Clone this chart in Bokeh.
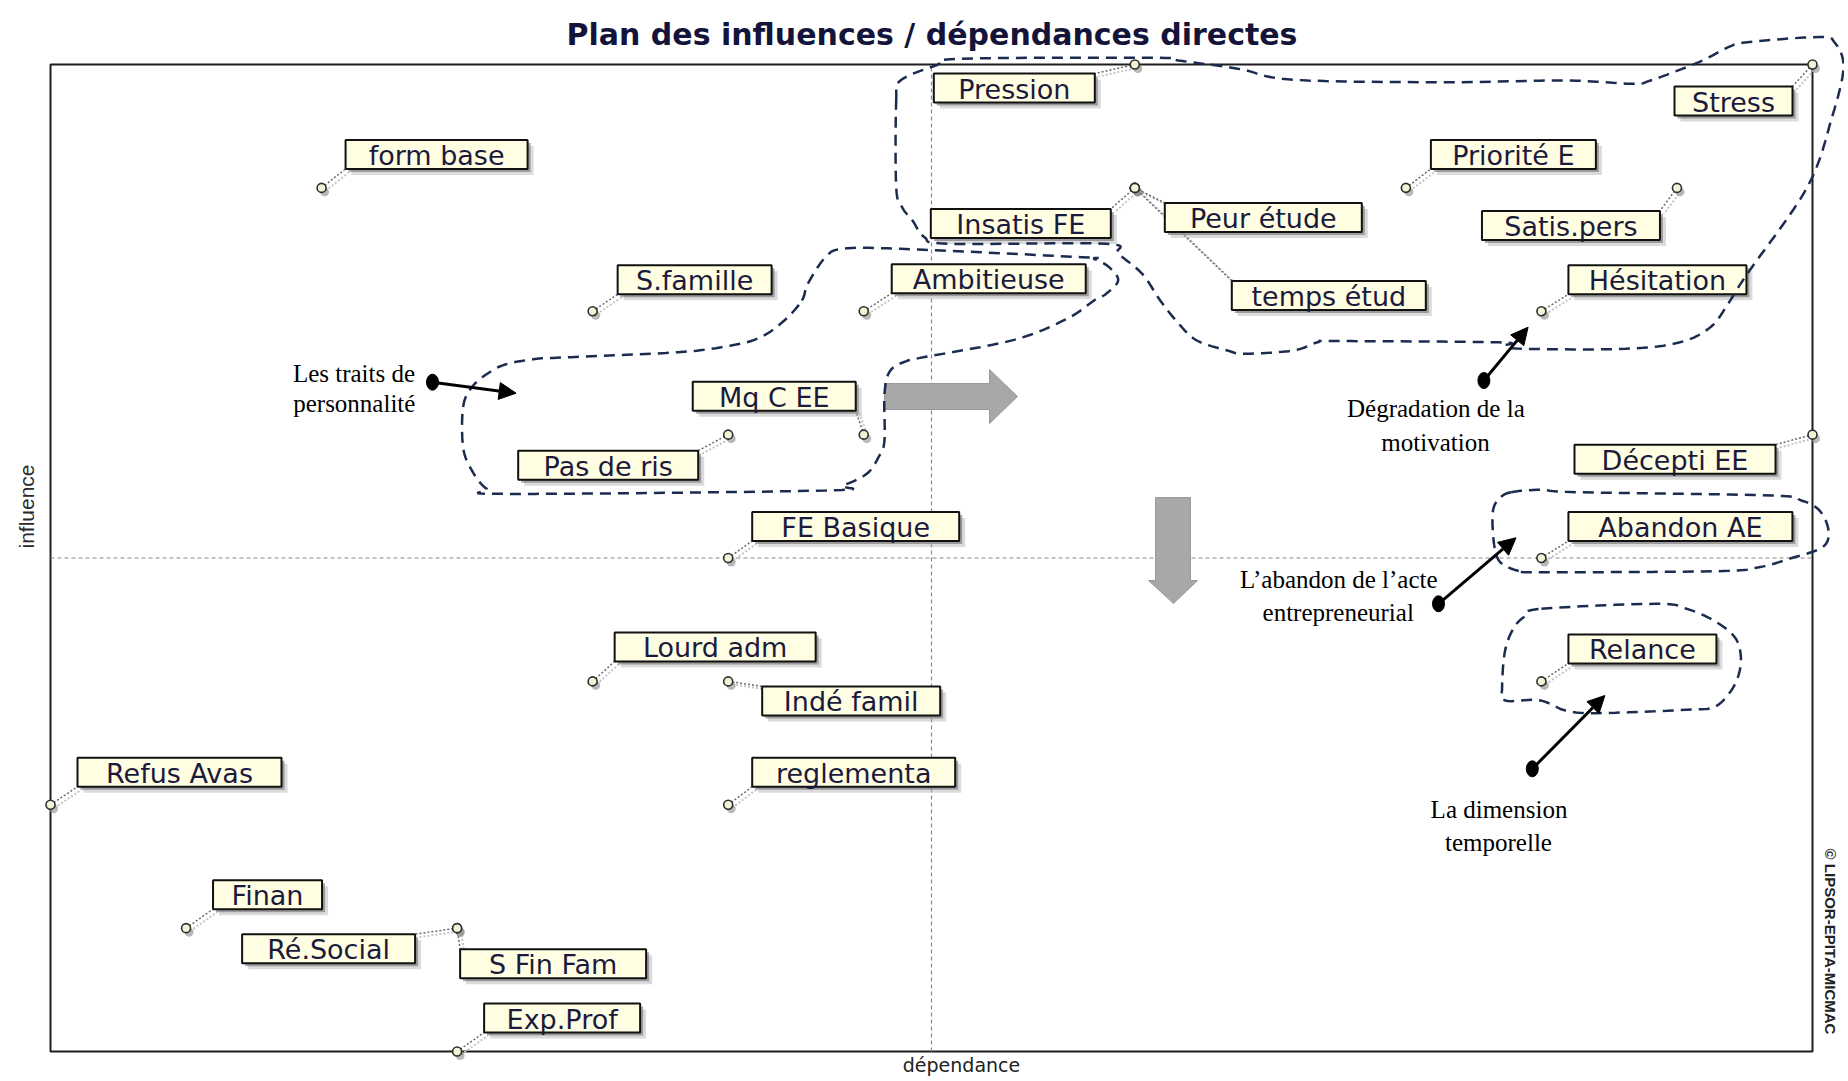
import numpy as np
from bokeh.plotting import figure
from bokeh.models import Range1d, Label, Arrow, NormalHead
from bokeh.embed import file_html
from bokeh.resources import INLINE
from bokeh.core.properties import value

# ---------------- data ----------------
names = ["form base", "Pression", "Stress", "Priorité E", "Insatis FE", "Peur étude",
         "temps étud", "Satis.pers", "Hésitation", "S.famille", "Ambitieuse", "Mq C EE",
         "Pas de ris", "FE Basique", "Décepti EE", "Abandon AE", "Relance", "Lourd adm",
         "Indé famil", "Refus Avas", "reglementa", "Finan", "Ré.Social", "S Fin Fam", "Exp.Prof"]
dependance = [2, 8, 13, 10, 8, 8, 8, 12, 11, 4, 6, 6, 5, 5, 13, 11, 11, 4, 5, 0, 5, 1, 3, 3, 3]
influence = [7, 8, 8, 7, 7, 7, 7, 7, 6, 6, 6, 5, 5, 4, 5, 4, 3, 3, 3, 2, 2, 1, 1, 1, 0]

title_text = "Plan des influences / dépendances directes"
x_label = "dépendance"
y_label = "influence"
credit = "© LIPSOR-EPITA-MICMAC"

# ---------------- layout (page pixels) ----------------
W, H = 1844, 1080
PAGE = 0
BOX_L, BOX_T, BOX_W, BOX_H = 50, 64, 1762, 987
LBL_H = 29

# label box offsets from the point (dx, dy of top-left corner, box width)
label_box = [(24, -48, 182), (-201, 9, 161), (-138, 22, 118), (25, -48, 165), (-204, 21, 180),
             (30, 15, 197), (97, 93, 194), (-195, 23, 178), (27, -46, 178), (25, -46, 154),
             (28, -47, 194), (-171, -53, 163), (-210, 16, 180), (24, -46, 207), (-238, 10, 201),
             (27, -46, 224), (27, -47, 148), (22, -49, 201), (34, 5, 178), (27, -47, 204),
             (24, -47, 203), (27, -48, 109), (-215, 6, 173), (3, 21, 186), (27, -48, 156)]

xmin, xmax = min(dependance), max(dependance)
ymin, ymax = min(influence), max(influence)
sx = (xmax - xmin) / BOX_W
sy = (ymax - ymin) / BOX_H
x0 = xmin - (BOX_L - PAGE) * sx
x1 = x0 + W * sx
y1 = ymax + (BOX_T - PAGE) * sy
y0 = y1 - H * sy


def X(px):
    return x0 + (np.asarray(px, dtype=float) - PAGE) * sx


def Y(py):
    return y1 - (np.asarray(py, dtype=float) - PAGE) * sy


def PX(x):
    return PAGE + (x - x0) / sx


def PY(y):
    return PAGE + (y1 - y) / sy


def smooth_closed(pts, n=10):
    pts = np.array(pts, dtype=float)
    m = len(pts)
    out = []
    for i in range(m):
        p0, p1, p2, p3 = pts[(i - 1) % m], pts[i], pts[(i + 1) % m], pts[(i + 2) % m]
        for t in np.linspace(0, 1, n, endpoint=False):
            t2, t3 = t * t, t * t * t
            out.append(0.5 * ((2 * p1) + (-p0 + p2) * t + (2 * p0 - 5 * p1 + 4 * p2 - p3) * t2
                              + (-p0 + 3 * p1 - 3 * p2 + p3) * t3))
    out.append(out[0])
    return np.array(out)


p = figure(width=W, height=H, x_range=Range1d(x0, x1), y_range=Range1d(y0, y1),
           output_backend="svg", toolbar_location=None, x_axis_type=None, y_axis_type=None,
           min_border=0)
p.outline_line_color = None
p.background_fill_color = "white"
p.border_fill_color = "white"

# frame box
p.quad(left=[xmin], right=[xmax], bottom=[ymin], top=[ymax], fill_color=None,
       line_color="#1e1e1e", line_width=2)

# median lines
xm, ym = (xmin + xmax) / 2, (ymin + ymax) / 2
p.segment(x0=[xm, xmin], y0=[ymin, ym], x1=[xm, xmax], y1=[ymax, ym],
          line_color="#8a8a8a", line_dash="4 3", line_width=1.2)

# gray block arrows
right_arrow = [(884, 383), (989, 383), (989, 369), (1017, 396), (989, 423), (989, 409), (884, 409)]
down_arrow = [(1155, 497), (1190, 497), (1190, 580), (1197, 580), (1173, 603), (1148, 580), (1155, 580)]
for shape in (right_arrow, down_arrow):
    xs = X([q[0] for q in shape])
    ys = Y([q[1] for q in shape])
    p.patch(xs, ys, fill_color="#a8a8a8", line_color="#9a9a9a", line_width=1)

# label geometry
ptx = [PX(d) for d in dependance]
pty = [PY(i) for i in influence]
bl, bt, br, bb, lx, ly = [], [], [], [], [], []
for (dx, dy, w), px_, py_ in zip(label_box, ptx, pty):
    L, T = px_ + dx, py_ + dy
    R, B = L + w, T + LBL_H
    bl.append(L); bt.append(T); br.append(R); bb.append(B)
    lx.append(min(max(px_, L), R))
    ly.append(min(max(py_, T), B))
bl, bt, br, bb = map(np.array, (bl, bt, br, bb))
ptx, pty, lx, ly = map(np.array, (ptx, pty, lx, ly))

# leader lines (shadow + line)
p.segment(x0=X(ptx + 4), y0=Y(pty + 3), x1=X(lx + 4), y1=Y(ly + 3),
          line_color="#c4c4c4", line_dash="2 2", line_width=2)
p.segment(x0=X(ptx), y0=Y(pty), x1=X(lx), y1=Y(ly),
          line_color="#6a6a6a", line_dash="2 2", line_width=1.5)

# markers (shadow + marker)
p.scatter(X(ptx + 3), Y(pty + 4), size=9, marker="circle", fill_color="#8a8a8a",
          fill_alpha=0.6, line_color=None)
p.scatter(dependance, influence, size=9, marker="circle", fill_color="#f3f3d6",
          line_color="#2e2e2e", line_width=1.6)

# label boxes: shadow, box, text
p.quad(left=X(bl + 6), right=X(br + 6), top=Y(bt + 6), bottom=Y(bb + 6),
       fill_color="#b0b0b0", fill_alpha=0.45, line_color=None)
p.quad(left=X(bl + 3), right=X(br + 3), top=Y(bt + 3), bottom=Y(bb + 3),
       fill_color="#707070", fill_alpha=0.6, line_color=None)
p.quad(left=X(bl), right=X(br), top=Y(bt), bottom=Y(bb),
       fill_color="#fffee2", line_color="#111111", line_width=2)
p.text(x=X((bl + br) / 2), y=Y((bt + bb) / 2 + 1), text=names, text_align="center",
       text_baseline="middle", text_font=value("DejaVu Sans"), text_font_size="27px",
       text_color="#1c1a3c")

# dashed group outlines
curve_a = [(895.7, 100), (900, 80), (935.8, 64.8), (960.6, 58.3), (1153.8, 57.3), (1178, 60.1),
           (1238.7, 68.4), (1292.9, 79.3), (1443.8, 81.7), (1565.2, 80), (1631.2, 83.3),
           (1650, 80), (1698.4, 61.6), (1727.8, 46.7), (1746.7, 41.7), (1818.6, 36.5),
           (1833.9, 41.7), (1843, 66.7), (1831.5, 116.7), (1806.8, 186.7), (1746.7, 273.4),
           (1727.8, 302.9), (1710.2, 326.5), (1679.5, 341.8), (1625.3, 348.3), (1522.8, 348.3),
           (1505, 345), (1498.6, 341.8), (1335.4, 340.6), (1317.1, 341.8), (1292.9, 350),
           (1244.6, 353.3), (1226.9, 350), (1196.3, 340), (1178, 322.9), (1159.7, 300),
           (1141.8, 273.4), (1117.7, 253.4), (1105.5, 243.3), (948.4, 243.3), (924, 236.7),
           (912, 220), (901.6, 206.7), (895.7, 186.7)]
curve_b = [(801.4, 300), (807.3, 283.3), (825, 256.7), (842.7, 248.3), (900, 248.3),
           (1081.4, 256.7), (1093.5, 258.3), (1108.6, 266.7), (1117.7, 280), (1105.5, 293.4),
           (1093.5, 300), (1066.6, 318.2), (1013.6, 339.4), (924, 356.6), (907.5, 360),
           (889.8, 370.1), (884, 393.3), (884, 440), (878, 456.7), (866.3, 473.3),
           (842.7, 485), (825, 490), (506.8, 493.4), (486.2, 488.3), (471.4, 470),
           (462.6, 446.7), (462.6, 406.6), (471.4, 386.6), (489.1, 371.7), (506.8, 363.4),
           (536.3, 358.3), (559.8, 357.1), (677.7, 351.7), (730.7, 345), (760.2, 336.7),
           (783.8, 320)]
curve_c = [(1510.6, 491.7), (1540.9, 489.3), (1577, 491.7), (1770.6, 495), (1800.9, 500),
           (1819, 510), (1828, 530), (1822, 546.7), (1788.8, 558.3), (1758.5, 566.7),
           (1716.2, 570.7), (1534.8, 571.7), (1516.7, 570), (1501.6, 563.3), (1495.5, 553.3),
           (1492.5, 533.3), (1492.5, 510), (1498.6, 498.3)]
curve_d = [(1540.9, 608.3), (1655.8, 603.3), (1686, 608.3), (1713.2, 620), (1734.3, 636.7),
           (1740.4, 656.7), (1737.4, 676.7), (1728.3, 693.3), (1713.2, 706.7), (1686, 709.3),
           (1595.3, 712.7), (1565, 710), (1550, 703.3), (1534.8, 699.3), (1504.6, 700),
           (1501.6, 686.7), (1504.6, 650), (1513.7, 626.7), (1525.8, 615)]
for c in (curve_a, curve_b, curve_c, curve_d):
    sm = smooth_closed(c, 8)
    p.line(X(sm[:, 0]), Y(sm[:, 1]), line_color="#1b2c4e", line_width=2.5, line_dash="11 7")

# black pointer arrows with dot tails
pointers = [((432, 381.7), (515.6, 392.7)), ((1483.4, 380), (1527.6, 326.7)),
            ((1438, 603.3), (1515.5, 537.3)), ((1531.8, 768.3), (1604.4, 695))]
for (tx, ty), (hx, hy) in pointers:
    p.add_layout(Arrow(end=NormalHead(size=17, fill_color="black", line_color="black"),
                       x_start=float(X(tx)), y_start=float(Y(ty)),
                       x_end=float(X(hx)), y_end=float(Y(hy)),
                       line_color="black", line_width=3))
p.ellipse(x=X([q[0][0] for q in pointers]), y=Y([q[0][1] for q in pointers]),
          width=12, height=16, width_units="screen", height_units="screen",
          fill_color="black", line_color="black")

# annotation texts (Times-like)
notes = [("Les traits de", 353.5, 372.7), ("personnalité", 353.8, 403),
         ("Dégradation de la", 1435.4, 408.3), ("motivation", 1435, 441.7),
         ("L’abandon de l’acte", 1338.3, 579.3), ("entrepreneurial", 1337.7, 611.7),
         ("La dimension", 1498.5, 809.3), ("temporelle", 1498, 841.7)]
p.text(x=X([n[1] for n in notes]), y=Y([n[2] for n in notes]), text=[n[0] for n in notes],
       text_align="center", text_baseline="alphabetic", text_font=value("Liberation Serif"),
       text_font_size="25px", text_color="black")

# title, axis names, credit
p.add_layout(Label(x=float(X(931.5)), y=float(Y(34)), text=title_text, text_align="center",
                   text_baseline="alphabetic", text_font="DejaVu Sans", text_font_style="bold",
                   text_font_size="30px", text_color="#14143a"))
p.add_layout(Label(x=float(X(961)), y=float(Y(1064)), text=x_label, text_align="center",
                   text_baseline="middle", text_font="DejaVu Sans", text_font_size="19px",
                   text_color="#222222"))
p.add_layout(Label(x=float(X(26)), y=float(Y(506)), text=y_label, text_align="center",
                   text_baseline="middle", angle=np.pi / 2, text_font="Liberation Sans",
                   text_font_size="21px", text_color="#2a2a2a"))
p.add_layout(Label(x=float(X(1830)), y=float(Y(941)), text=credit, text_align="center",
                   text_baseline="middle", angle=-np.pi / 2, text_font="Liberation Sans",
                   text_font_style="bold", text_font_size="15px", text_color="#222222"))

open("out.html", "w").write(file_html(p, INLINE))
